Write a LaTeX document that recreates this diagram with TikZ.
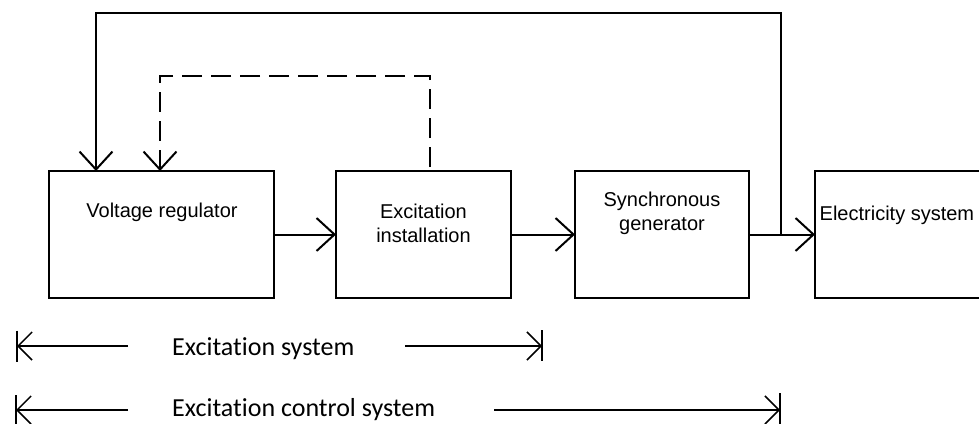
\documentclass[tikz,border=0pt]{standalone}
\usepackage{fontspec}
\setmainfont{Liberation Sans}
\newfontfamily\calib[Ligatures=NoCommon]{Carlito}
\usetikzlibrary{arrows.meta}
\begin{document}
\begin{tikzpicture}[x=1pt,y=-1pt,
  box/.style={draw,line width=2pt,inner sep=0pt,outer sep=0pt,minimum height=127pt},
  txt/.style={inner sep=0pt,font=\fontsize{20pt}{24pt}\selectfont},
  arr/.style={line width=2pt,-{Straight Barb[length=18pt,width=33pt]}},
  dashline/.style={dash pattern=on 20pt off 9pt,dash phase=25pt},
  dim/.style={line width=1.5pt,-{Straight Barb[length=14pt,width=28pt]}},
  dimbar/.style={line width=1.5pt},
  lbl/.style={inner sep=0pt,font=\calib\fontsize{26pt}{30pt}\selectfont}]
\useasboundingbox (0,0) rectangle (979,423);
% boxes
\node[box,minimum width=225pt] (vr) at (161.5,234.5) {};
\node[box,minimum width=175pt] (exc) at (423.5,234.5) {};
\node[box,minimum width=174pt] (gen) at (662,234.5) {};
\node[box,minimum width=185pt] (es) at (907.5,234.5) {};
% texts
\node[txt,anchor=base] (tvr) at (162,217) {Voltage regulator};
\node[txt,anchor=north,align=center] (texc) at (423.5,203.7) {Excitation\\installation};
\node[txt,anchor=north,align=center] (tgen) at (662,191.4) {Synchronous\\generator};
\node[txt,anchor=base west] (tes) at (819.5,220) {Electricity system};
% forward connectors
\draw[arr] (vr.east) -- (exc.west);
\draw[arr] (exc.east) -- (gen.west);
\draw[arr] (gen.east) -- (es.west);
% feedback
\coordinate (j) at (781,234.5);
\draw[arr] (j) -- ++(0,-222) -| ([xshift=-65.5pt]vr.north);
\draw[arr,dashline] ([xshift=6.5pt]exc.north) -- ++(0,-95) -| ([xshift=-1.5pt]vr.north);
% dimension lines
\coordinate (a1) at (17,346);
\coordinate (b1) at (128,346);
\coordinate (c1) at (405,346);
\coordinate (d1) at (542,346);
\coordinate (a2) at (16,410);
\coordinate (b2) at (128,410);
\coordinate (c2) at (494,410);
\coordinate (d2) at (780,410);
\draw[dim] (b1) -- (a1);
\draw[dim] (c1) -- (d1);
\draw[dim] (b2) -- (a2);
\draw[dim] (c2) -- (d2);
\draw[dimbar] (a1) ++(0,-15.5) -- ++(0,31);
\draw[dimbar] (d1) ++(0,-16) -- ++(0,31);
\draw[dimbar] (a2) ++(0,-15) -- ++(0,31);
\draw[dimbar] (d2) ++(0,-17) -- ++(0,33);
\node[lbl,anchor=base west] (s1) at (172,355) {Excitation system};
\node[lbl,anchor=base west] (s2) at (172,416) {Excitation control system};
\end{tikzpicture}
\end{document}
